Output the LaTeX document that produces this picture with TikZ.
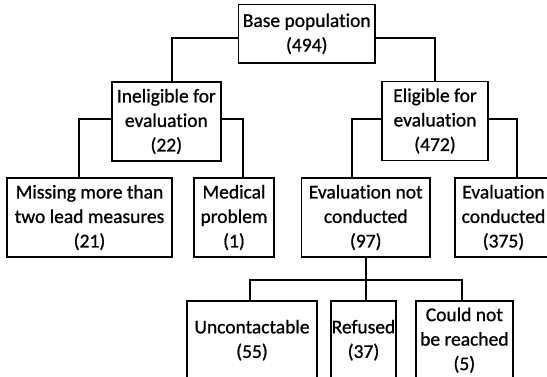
\documentclass[tikz,border=0pt]{standalone}
\usepackage{fontspec}
\setmainfont{Carlito}
\newfontfamily\boxfont{Carlito}[FakeBold=0.9, Ligatures=NoCommon]
\usepackage{tikz}
\usetikzlibrary{positioning, calc}

\begin{document}
\begin{tikzpicture}[
                                        x=1pt, y=-1pt,
                                        line width=1.7pt,
                                        every node/.style={rectangle, draw, line width=1.7pt, align=center, inner sep=0pt,
                                                font=\boxfont\fontsize{19.5}{24.5}\selectfont},
                                        row/.style={minimum height=79pt},
                                ]
                                \useasboundingbox (0,0) rectangle (547,376);
                                \node[minimum width=136.5pt, minimum height=58.5pt] (base) at (306.75,33.75) {Base population\\(494)};
                                \node[row, minimum width=109.3pt] (inel) at (166.35,121.5) {Ineligible for\\evaluation\\(22)};
                                \node[row, minimum width=106pt] (elig) at (435,121) {Eligible for\\evaluation\\(472)};
                                \node[row, minimum width=164.4pt] (miss) at (89.5,217.5) {Missing more than\\two lead measures\\(21)};
                                \node[row, minimum width=80pt] (med) at (234,217.5) {Medical\\problem\\(1)};
                                \node[row, minimum width=128.5pt] (notc) at (365.75,217.5) {Evaluation not\\conducted\\(97)};
                                \node[row, minimum width=97pt] (cond) at (503.5,217.5) {Evaluation\\conducted\\(375)};
                                \node[row, minimum width=129.4pt] (unc) at (252,340.2) {Uncontactable\\(55)};
                                \node[row, minimum width=65pt] (ref) at (363.5,340.2) {Refused\\(37)};
                                \node[row, minimum width=97.3pt] (reach) at (464.35,340.2) {Could not\\be reached\\(5)};
                                \coordinate (fork) at (365.75,280);
                                \draw ([yshift=-4.5pt]base.west) -| ([xshift=5.65pt]inel.north);
                                \draw ([yshift=-4.5pt]base.east) -| (elig.north);
                                \draw ([yshift=2.5pt]inel.west) -| ([xshift=-10.5pt]miss.north);
                                \draw ([yshift=2.5pt]inel.east) -| ([xshift=9pt]med.north);
                                \draw ([yshift=2pt]elig.west) -| ([xshift=-13.75pt]notc.north);
                                \draw ([yshift=2pt]elig.east) -| ([xshift=13.5pt]cond.north);
                                \draw (notc.south) -- (notc.south |- ref.north);
                                \draw ([xshift=-2pt]unc.north) |- (fork) -| ([xshift=-2.6pt]reach.north);
                        \end{tikzpicture}
\end{document}
